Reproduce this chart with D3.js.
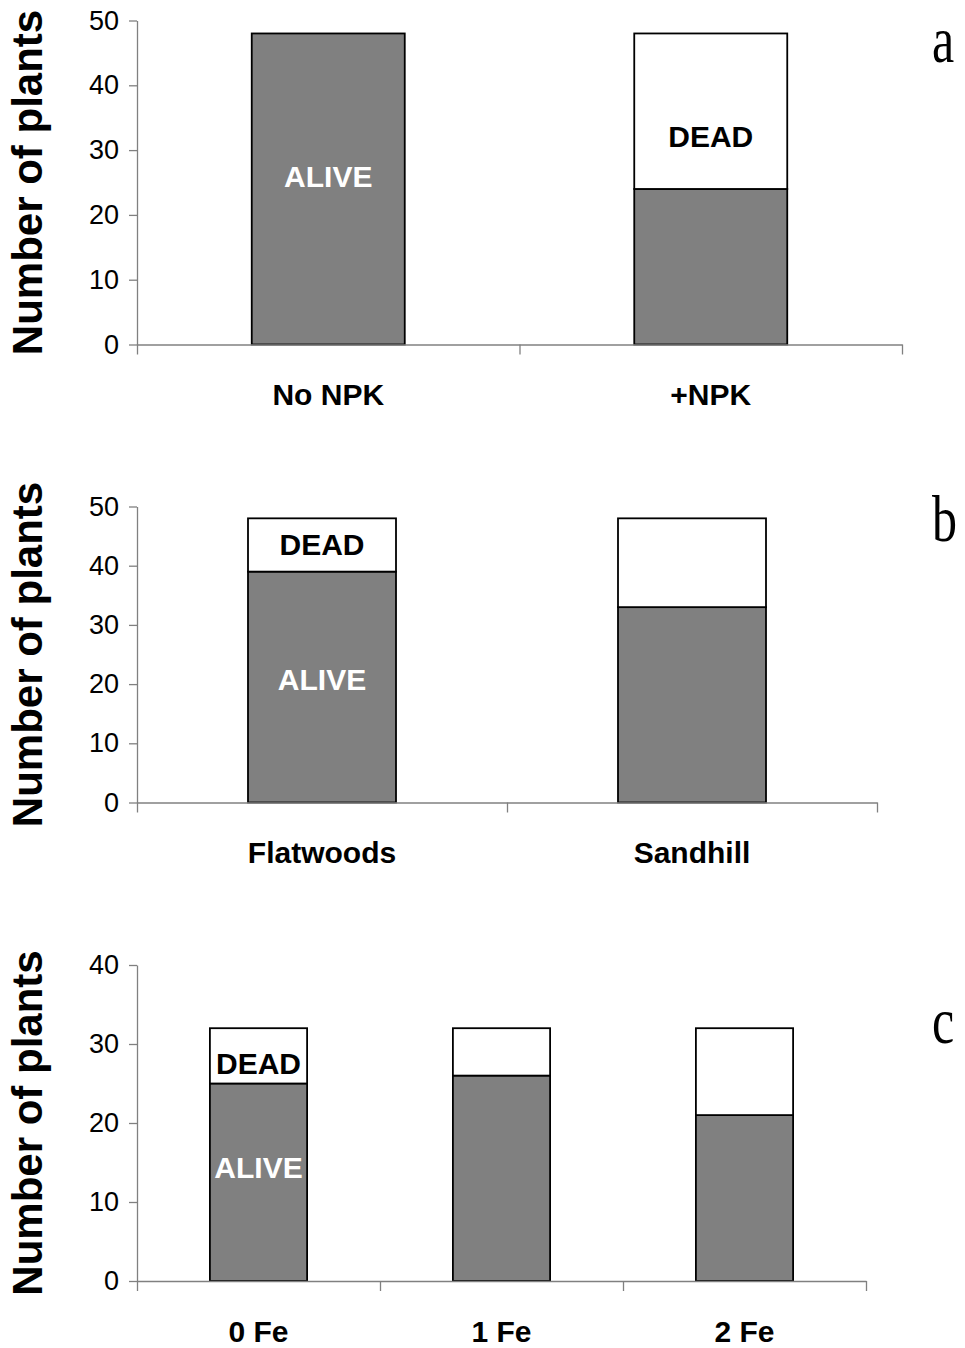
<!DOCTYPE html>
<html>
<head>
<meta charset="utf-8">
<script src="https://cdn.jsdelivr.net/npm/d3@7"></script>
<style>
  body { margin: 0; background: #fff; }
  svg { display: block; font-family: "Liberation Sans", Arial, sans-serif; }
</style>
</head>
<body>
<div id="chart"></div>
<script>
// data (number of plants)
const npkCats = ["No NPK", "+NPK"]
const npkAlive = [48, 24]
const npkDead = [0, 24]

const siteCats = ["Flatwoods", "Sandhill"]
const siteAlive = [39, 33]
const siteDead = [9, 15]

const feCats = ["0 Fe", "1 Fe", "2 Fe"]
const feAlive = [25, 26, 21]
const feDead = [7, 6, 11]

const ticks50 = [0, 10, 20, 30, 40, 50]
const ticks40 = [0, 10, 20, 30, 40]

// in-bar annotations, placed in data units
const npkNotes = [{ text: "ALIVE", cat: "No NPK", at: 26, fill: "#fff" }, { text: "DEAD", cat: "+NPK", at: 32.2, fill: "#000" }]
const siteNotes = [{ text: "DEAD", cat: "Flatwoods", at: 43.6, fill: "#000" }, { text: "ALIVE", cat: "Flatwoods", at: 20.9, fill: "#fff" }]
const feNotes = [{ text: "DEAD", cat: "0 Fe", at: 27.6, fill: "#000" }, { text: "ALIVE", cat: "0 Fe", at: 14.4, fill: "#fff" }]

const W = 965, H = 1348
const axisX = 137

const panels = [
  { cats: npkCats, alive: npkAlive, dead: npkDead, yMax: 50, ticks: ticks50, notes: npkNotes, letter: "a",
    top: 20.5, bottom: 344.5, right: 902, letterY: 62 },
  { cats: siteCats, alive: siteAlive, dead: siteDead, yMax: 50, ticks: ticks50, notes: siteNotes, letter: "b",
    top: 506.5, bottom: 802.5, right: 877, letterY: 541 },
  { cats: feCats, alive: feAlive, dead: feDead, yMax: 40, ticks: ticks40, notes: feNotes, letter: "c",
    top: 965, bottom: 1281, right: 866, letterY: 1043 }
]

const svg = d3.select("#chart").append("svg")
  .attr("width", W)
  .attr("height", H)

panels.forEach(p => {
  const g = svg.append("g")

  const y = d3.scaleLinear().domain([0, p.yMax]).range([p.bottom, p.top])
  const x = d3.scaleBand().domain(p.cats).range([axisX, p.right])
    .paddingInner(0.6).paddingOuter(0.3)
  const edge = d3.scaleLinear().domain([0, p.cats.length]).range([axisX, p.right])

  // bars: alive at the bottom, dead stacked on top
  const rows = p.cats.map((c, i) => ({ cat: c, alive: p.alive[i], dead: p.dead[i] }))

  g.selectAll("rect.alive").data(rows).enter().append("rect")
    .attr("class", "alive")
    .attr("x", d => x(d.cat))
    .attr("width", x.bandwidth())
    .attr("y", d => y(d.alive))
    .attr("height", d => y(0) - y(d.alive))
    .attr("fill", "#808080")
    .attr("stroke", "#000")
    .attr("stroke-width", 1.8)

  g.selectAll("rect.dead").data(rows.filter(d => d.dead > 0)).enter().append("rect")
    .attr("class", "dead")
    .attr("x", d => x(d.cat))
    .attr("width", x.bandwidth())
    .attr("y", d => y(d.alive + d.dead))
    .attr("height", d => y(d.alive) - y(d.alive + d.dead))
    .attr("fill", "#fff")
    .attr("stroke", "#000")
    .attr("stroke-width", 1.8)

  // y axis
  const yAxis = g.append("g")
    .attr("transform", `translate(${axisX},0)`)
    .call(d3.axisLeft(y).tickValues(p.ticks).tickSize(8).tickSizeOuter(0).tickPadding(10))
  yAxis.selectAll("path, line").attr("stroke", "#808080").attr("stroke-width", 1.3)
  yAxis.selectAll("text")
    .attr("font-size", 27)
    .attr("font-family", "'Liberation Sans', Arial, sans-serif")
    .attr("fill", "#000")

  // x axis with ticks at the category boundaries
  const xAxis = g.append("g")
    .attr("transform", `translate(0,${p.bottom})`)
    .call(d3.axisBottom(edge).tickValues(d3.range(p.cats.length + 1)).tickSize(10).tickSizeOuter(0).tickFormat(""))
  xAxis.selectAll("path, line").attr("stroke", "#808080").attr("stroke-width", 1.3)

  // category names
  g.selectAll("text.cat").data(p.cats).enter().append("text")
    .attr("class", "cat")
    .attr("x", d => x(d) + x.bandwidth() / 2)
    .attr("y", p.bottom + 60.5)
    .attr("text-anchor", "middle")
    .attr("font-size", 30)
    .attr("font-weight", "bold")
    .text(d => d)

  // ALIVE / DEAD notes
  g.selectAll("text.note").data(p.notes).enter().append("text")
    .attr("class", "note")
    .attr("x", d => x(d.cat) + x.bandwidth() / 2)
    .attr("y", d => y(d.at))
    .attr("dy", "0.36em")
    .attr("text-anchor", "middle")
    .attr("font-size", 30)
    .attr("font-weight", "bold")
    .attr("fill", d => d.fill)
    .text(d => d.text)

  // y title
  g.append("text")
    .attr("transform", `translate(42,${(p.top + p.bottom) / 2}) rotate(-90)`)
    .attr("text-anchor", "middle")
    .attr("font-size", 42)
    .attr("font-weight", "bold")
    .text("Number of plants")

  // panel letter
  g.append("text")
    .attr("transform", `translate(932,${p.letterY}) scale(1,1.3)`)
    .attr("font-family", "'Liberation Serif', 'Times New Roman', serif")
    .attr("font-size", 50)
    .text(p.letter)
})
</script>
</body>
</html>
